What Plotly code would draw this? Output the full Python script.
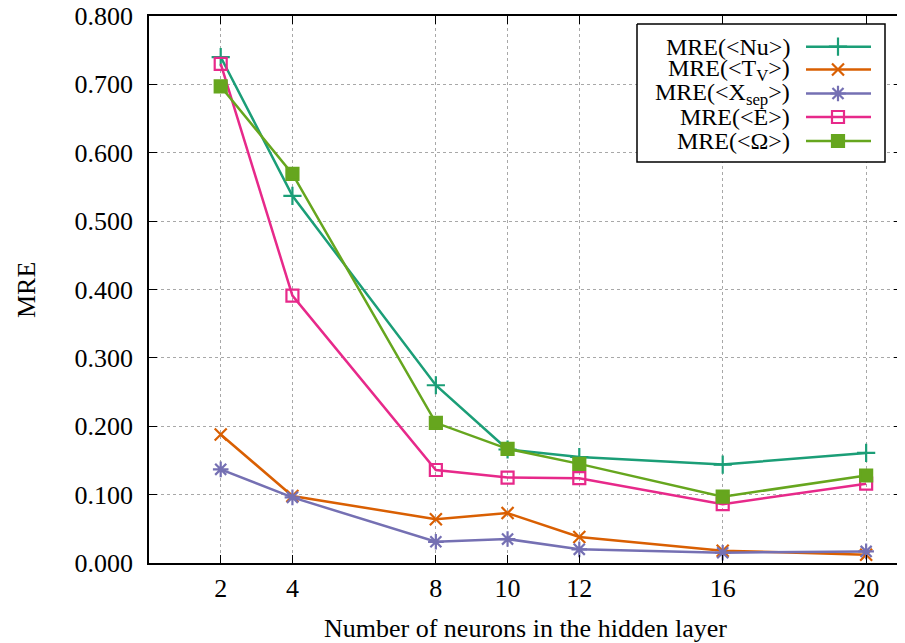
import plotly.graph_objects as go

# ---- data ----
neurons = [2, 4, 8, 10, 12, 16, 20]
mre_nu = [0.740, 0.537, 0.260, 0.166, 0.155, 0.144, 0.161]
mre_tv = [0.188, 0.098, 0.064, 0.073, 0.038, 0.018, 0.012]
mre_xsep = [0.137, 0.096, 0.031, 0.035, 0.020, 0.015, 0.017]
mre_e = [0.730, 0.391, 0.136, 0.125, 0.124, 0.086, 0.116]
mre_omega = [0.697, 0.569, 0.205, 0.167, 0.145, 0.097, 0.128]

x_ticks = [2, 4, 8, 10, 12, 16, 20]
y_ticks = [0.0, 0.1, 0.2, 0.3, 0.4, 0.5, 0.6, 0.7, 0.8]

series_names = [
    "MRE(&lt;Nu&gt;)",
    "MRE(&lt;T<sub>V</sub>&gt;)",
    "MRE(&lt;X<sub>sep</sub>&gt;)",
    "MRE(&lt;E&gt;)",
    "MRE(&lt;Ω&gt;)",
]
series_values = [mre_nu, mre_tv, mre_xsep, mre_e, mre_omega]
colors = ["#1b9e77", "#d95f02", "#7570b3", "#e7298a", "#66a61e"]
symbols = ["cross-thin", "x-thin", "asterisk", "square-open", "square"]
sizes = [13, 12, 13, 12, 12]

FONT = "Liberation Serif"
OFF = 8                      # default page (body) margin around the figure
W, H = 905 - OFF, 643 - OFF
L, R, T, B = 141, 3, 8, 80   # plot area on screen: x 149..902, y 16..563
PW, PH = W - L - R, H - T - B


def px(sx):
    return (sx - OFF - L) / PW


def py(sy):
    return (H - B - (sy - OFF)) / PH


fig = go.Figure()

for name, vals, c, s, sz in zip(series_names, series_values, colors, symbols, sizes):
    fig.add_trace(go.Scatter(
        x=neurons, y=vals, mode="lines+markers", name=name,
        line=dict(color=c, width=2.5),
        marker=dict(symbol=s, size=sz, color=c, line=dict(color=c, width=2.2)),
        cliponaxis=False, showlegend=False,
    ))

# ---- manual gnuplot-style legend on a screen-pixel overlay axis ----
box_x = [637, 885, 885, 637, 637]
box_y = [24, 24, 162, 162, 24]
fig.add_trace(go.Scatter(
    x=box_x, y=box_y, mode="lines", fill="toself", fillcolor="white",
    line=dict(color="black", width=1.5), xaxis="x2", yaxis="y2",
    showlegend=False, hoverinfo="skip",
))

legend_y = [46.7, 69.5, 93.5, 117, 141]
line_x0, line_x1, mark_x, text_x = 806, 871, 838, 792
for name, c, s, sz, ly in zip(series_names, colors, symbols, sizes, legend_y):
    fig.add_trace(go.Scatter(
        x=[line_x0, line_x1], y=[ly, ly], mode="lines",
        line=dict(color=c, width=2.5), xaxis="x2", yaxis="y2",
        showlegend=False, hoverinfo="skip",
    ))
    fig.add_trace(go.Scatter(
        x=[mark_x], y=[ly], mode="markers",
        marker=dict(symbol=s, size=sz, color=c, line=dict(color=c, width=2.2)),
        xaxis="x2", yaxis="y2", showlegend=False, hoverinfo="skip",
    ))
    fig.add_annotation(
        x=text_x, y=ly, xref="x2", yref="y2", text=name, showarrow=False,
        xanchor="right", yanchor="middle",
        font=dict(family=FONT, size=24, color="black"),
    )

# axis titles
fig.add_annotation(
    x=px(525), y=py(628), xref="paper", yref="paper",
    text="Number of neurons in the hidden layer",
    showarrow=False, xanchor="center", yanchor="middle",
    font=dict(family=FONT, size=26, color="black"),
)
fig.add_annotation(
    x=px(26), y=py(290), xref="paper", yref="paper",
    text="MRE", textangle=-90,
    showarrow=False, xanchor="center", yanchor="middle",
    font=dict(family=FONT, size=26, color="black"),
)

axis_common = dict(
    showline=True, linecolor="black", linewidth=1.5, mirror="ticks",
    ticks="inside", ticklen=8, tickwidth=1.2, tickcolor="black",
    showgrid=True, gridcolor="#a8a8a8", gridwidth=1, griddash="dot",
    zeroline=False, automargin=False, ticklabeloverflow="allow",
    tickfont=dict(family=FONT, size=26, color="black"),
)

fig.update_layout(
    width=W, height=H,
    margin=dict(l=L, r=R, t=T, b=B, pad=0, autoexpand=False),
    paper_bgcolor="white", plot_bgcolor="white",
    font=dict(family=FONT),
    xaxis=dict(range=[0, 21], tickvals=x_ticks, ticktext=[str(v) for v in x_ticks],
               ticklabelstandoff=1, **axis_common),
    yaxis=dict(range=[0, 0.8], tickvals=y_ticks, tickformat=".3f",
               ticklabelstandoff=9, **axis_common),
    xaxis2=dict(overlaying="x", range=[L + OFF, W - R + OFF], visible=False,
                fixedrange=True, anchor="y2", automargin=False),
    yaxis2=dict(overlaying="y", range=[H - B + OFF, T + OFF], visible=False,
                fixedrange=True, anchor="x2", automargin=False),
    showlegend=False,
)

fig.write_html("out.html")
